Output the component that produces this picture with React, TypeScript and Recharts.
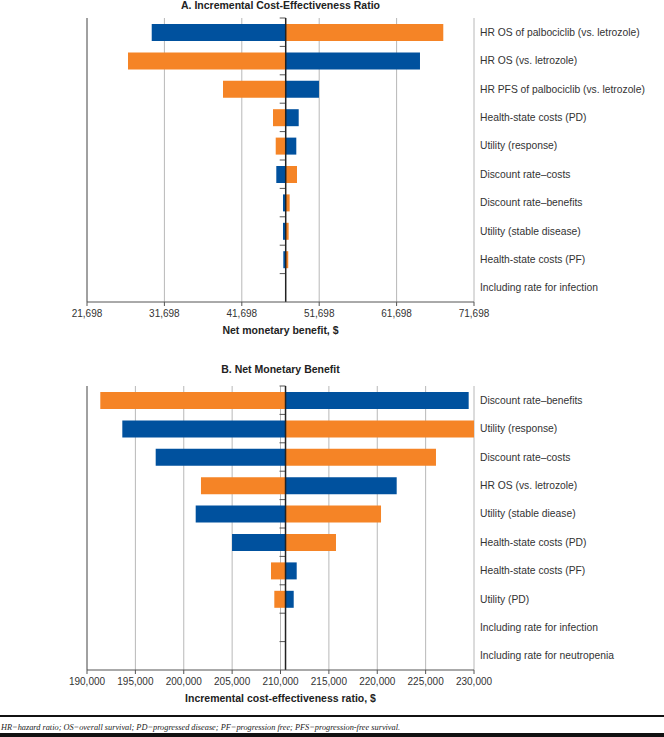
import React from "react";
import { Bar, BarChart, CartesianGrid, ReferenceLine, XAxis, YAxis } from "recharts";

const BLUE = "#00519e";
const ORANGE = "#f58426";

// Panel A: parameters, and the end value of each coloured bar (bars start at the base case)
const paramsA = [
  "HR OS of palbociclib (vs. letrozole)",
  "HR OS (vs. letrozole)",
  "HR PFS of palbociclib (vs. letrozole)",
  "Health-state costs (PD)",
  "Utility (response)",
  "Discount rate\u2013costs",
  "Discount rate\u2013benefits",
  "Utility (stable disease)",
  "Health-state costs (PF)",
  "Including rate for infection",
];
const blueA = [30060, 64720, 51670, 49050, 48740, 46155, 47020, 47020, 47060, 47371];
const orangeA = [67730, 26995, 39270, 45730, 46080, 48830, 47880, 47750, 47700, 47371];
const baseA = 47371;
const ticksA = [21698, 31698, 41698, 51698, 61698, 71698];

// Panel B
const paramsB = [
  "Discount rate\u2013benefits",
  "Utility (response)",
  "Discount rate\u2013costs",
  "HR OS (vs. letrozole)",
  "Utility (stable diease)",
  "Health-state costs (PD)",
  "Health-state costs (PF)",
  "Utility (PD)",
  "Including rate for infection",
  "Including rate for neutropenia",
];
const blueB = [229450, 193650, 197100, 222010, 201235, 204990, 211675, 211365, 210520, 210520];
const orangeB = [191375, 230000, 226070, 201780, 220390, 215735, 209020, 209360, 210520, 210520];
const baseB = 210520;
const ticksB = [190000, 195000, 200000, 205000, 210000, 215000, 220000, 225000, 230000];

function buildRows(names: string[], blue: number[], orange: number[], base: number) {
  return names.map((name, i) => ({
    name,
    blue: [Math.min(blue[i], base), Math.max(blue[i], base)],
    orange: [Math.min(orange[i], base), Math.max(orange[i], base)],
  }));
}

// centre line with the little category ticks on its left side
function BaseLine(props: any) {
  const { x1, y1, y2, count } = props;
  const top = Math.min(y1, y2);
  const bottom = Math.max(y1, y2);
  const step = (bottom - top) / count;
  const marks = [];
  for (let k = 0; k < count; k++) {
    const y = top + k * step;
    marks.push(<line key={k} x1={x1 - 6} x2={x1} y1={y} y2={y} stroke="#555" strokeWidth={1} />);
  }
  return (
    <g>
      {marks}
      <line x1={x1} x2={x1} y1={top} y2={bottom} stroke="#222" strokeWidth={1.5} />
    </g>
  );
}

// one-line parameter label, left aligned to the right of the plot
function ParamTick(props: any) {
  const { x, y, payload } = props;
  return (
    <text x={x} y={y} dy="0.35em" textAnchor="start" fontSize={10.3} fill="#333">
      {payload.value}
    </text>
  );
}

function Tornado({ rows, base, ticks, axisTitle, height, marginTop }: any) {
  return (
    <BarChart
      width={664}
      height={height}
      data={rows}
      layout="vertical"
      barGap={-17}
      margin={{ top: marginTop, right: 0, bottom: 4, left: 87 }}
    >
      <CartesianGrid vertical horizontal={false} stroke="#b8b8b8" />
      <XAxis
        type="number"
        domain={[ticks[0], ticks[ticks.length - 1]]}
        allowDataOverflow
        ticks={ticks}
        interval={0}
        tickFormatter={(v: number) => v.toLocaleString("en-US")}
        tickSize={4}
        tickMargin={4}
        height={34}
        axisLine={{ stroke: "#555" }}
        tickLine={{ stroke: "#555" }}
        tick={{ fill: "#333", fontSize: 10 }}
        label={{
          value: axisTitle,
          position: "insideBottom",
          offset: 2,
          fill: "#222",
          fontSize: 10.5,
          fontWeight: "bold",
        }}
      />
      <YAxis
        type="category"
        dataKey="name"
        orientation="right"
        width={190}
        axisLine={false}
        tickLine={false}
        tickMargin={0}
        interval={0}
        tick={<ParamTick />}
      />
      <Bar dataKey="blue" fill={BLUE} barSize={17} isAnimationActive={false} />
      <Bar dataKey="orange" fill={ORANGE} barSize={17} isAnimationActive={false} />
      <ReferenceLine x={ticks[0]} stroke="#666" />
      <ReferenceLine x={base} shape={(p: any) => <BaseLine {...p} count={rows.length} />} />
    </BarChart>
  );
}

const titleStyle: React.CSSProperties = {
  position: "absolute",
  left: 0,
  width: 561,
  textAlign: "center",
  fontWeight: "bold",
  fontSize: 10.5,
  lineHeight: "14px",
  color: "#222",
};

export default function App() {
  const rowsA = buildRows(paramsA, blueA, orangeA, baseA);
  const rowsB = buildRows(paramsB, blueB, orangeB, baseB);
  const eq = <span style={{ color: "#999" }}>=</span>;
  return (
    <div
      style={{
        position: "absolute",
        left: 0,
        top: 0,
        width: 664,
        height: 737,
        background: "#fff",
        overflow: "hidden",
        fontFamily: "'Liberation Sans', Arial, sans-serif",
      }}
    >
      <div style={{ ...titleStyle, top: -2 }}>A. Incremental Cost-Effectiveness Ratio</div>
      <div style={{ position: "absolute", left: 0, top: 0 }}>
        <Tornado rows={rowsA} base={baseA} ticks={ticksA} axisTitle="Net monetary benefit, $" height={340} marginTop={18} />
      </div>
      <div style={{ ...titleStyle, top: 362 }}>B. Net Monetary Benefit</div>
      <div style={{ position: "absolute", left: 0, top: 360 }}>
        <Tornado
          rows={rowsB}
          base={baseB}
          ticks={ticksB}
          axisTitle="Incremental cost-effectiveness ratio, $"
          height={348}
          marginTop={26}
        />
      </div>
      <div
        style={{
          position: "absolute",
          left: 0,
          top: 715,
          width: 664,
          borderTop: "2px solid #111",
          paddingTop: 5,
          paddingLeft: 1,
          fontFamily: "'Liberation Serif', serif",
          fontStyle: "italic",
          fontSize: 8.3,
          lineHeight: "11px",
          color: "#222",
          whiteSpace: "nowrap",
        }}
      >
        HR{eq}hazard ratio; OS{eq}overall survival; PD{eq}progressed disease; PF{eq}progression free; PFS{eq}progression-free survival.
      </div>
      <div style={{ position: "absolute", left: 0, top: 733, width: 664, height: 4, background: "#111" }} />
    </div>
  );
}
